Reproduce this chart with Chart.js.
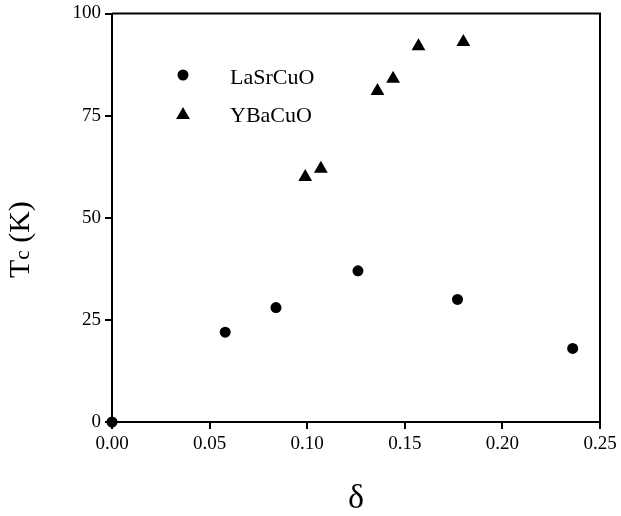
<!DOCTYPE html>
<html>
<head>
<meta charset="utf-8">
<script src="https://cdn.jsdelivr.net/npm/chart.js@4.4.1/dist/chart.umd.min.js"></script>
<style>
  html, body { margin: 0; padding: 0; background: #fff; }
  #wrap { width: 621px; height: 516px; position: relative; }
</style>
</head>
<body>
<div id="wrap"><canvas id="c"></canvas></div>
<script>
// ---- data ----
const seriesNames = ['LaSrCuO', 'YBaCuO'];
const lasrDelta = [0.000, 0.058, 0.084, 0.126, 0.177, 0.236];
const lasrTc    = [0, 22, 28, 37, 30, 18];
const ybaDelta  = [0.099, 0.107, 0.136, 0.144, 0.157, 0.180];
const ybaTc     = [60, 62, 81, 84, 92, 93];
const xTicks = [0.00, 0.05, 0.10, 0.15, 0.20, 0.25];
const yTicks = [0, 25, 50, 75, 100];
const xTitle = 'δ';
const yTitleMain = 'T', yTitleSub = 'c', yTitleRest = ' (K)';

const serif = "'Liberation Serif', 'Times New Roman', serif";

const toPts = (xs, ys) => xs.map((x, i) => ({ x: x, y: ys[i] }));

function drawMarker(ctx, style, r, x, y) {
  ctx.beginPath();
  if (style === 'circle') {
    ctx.arc(x, y, r, 0, Math.PI * 2);
  } else {
    const w = r * Math.sqrt(3) / 2;
    ctx.moveTo(x, y - r);
    ctx.lineTo(x + w, y + r / 2);
    ctx.lineTo(x - w, y + r / 2);
    ctx.closePath();
  }
  ctx.fillStyle = '#000';
  ctx.fill();
}

const framePlugin = {
  id: 'frame',
  afterDraw(chart) {
    const { ctx, chartArea: a } = chart;
    ctx.save();
    ctx.strokeStyle = '#000';
    ctx.lineWidth = 2;
    ctx.beginPath();
    ctx.moveTo(a.left, a.top);
    ctx.lineTo(a.right, a.top);
    ctx.lineTo(a.right, a.bottom);
    ctx.stroke();

    // legend inside plot
    const items = [
      { name: seriesNames[0], style: 'circle', r: 5.5, y: 77 },
      { name: seriesNames[1], style: 'triangle', r: 8, y: 115 }
    ];
    ctx.font = '22px ' + serif;
    ctx.textBaseline = 'middle';
    ctx.textAlign = 'left';
    items.forEach(it => {
      drawMarker(ctx, it.style, it.r, 183, it.y - (it.style === 'circle' ? 2 : 0));
      ctx.fillStyle = '#000';
      ctx.fillText(it.name, 230, it.y + 1);
    });

    // y-axis title with small "c"
    ctx.translate(29, 278);
    ctx.rotate(-Math.PI / 2);
    ctx.textBaseline = 'alphabetic';
    ctx.font = '30px ' + serif;
    ctx.fillText(yTitleMain, 0, 0);
    let off = ctx.measureText(yTitleMain).width;
    ctx.font = '21px ' + serif;
    ctx.fillText(yTitleSub, off, 0);
    off += ctx.measureText(yTitleSub).width;
    ctx.font = '30px ' + serif;
    ctx.fillText(yTitleRest, off, 0);
    ctx.restore();
  }
};

new Chart(document.getElementById('c'), {
  type: 'scatter',
  data: {
    datasets: [
      {
        label: seriesNames[0],
        data: toPts(lasrDelta, lasrTc),
        pointStyle: 'circle',
        pointRadius: 5.5,
        pointBackgroundColor: '#000',
        pointBorderColor: '#000',
        pointBorderWidth: 0,
        clip: false
      },
      {
        label: seriesNames[1],
        data: toPts(ybaDelta, ybaTc),
        pointStyle: 'triangle',
        pointRadius: 8,
        pointBackgroundColor: '#000',
        pointBorderColor: '#000',
        pointBorderWidth: 0,
        clip: false
      }
    ]
  },
  options: {
    responsive: true,
    maintainAspectRatio: false,
    devicePixelRatio: 1,
    animation: false,
    layout: { padding: { left: 0, right: 21, top: 13, bottom: 0 } },
    plugins: { legend: { display: false }, tooltip: { enabled: false } },
    scales: {
      x: {
        type: 'linear',
        min: 0, max: 0.25,
        afterBuildTicks(axis) { axis.ticks = xTicks.map(v => ({ value: v })); },
        afterFit(axis) { axis.height = 94; },
        ticks: {
          color: '#000',
          font: { family: serif, size: 19 },
          padding: 4,
          callback: v => Number(v).toFixed(2)
        },
        grid: { drawOnChartArea: false, drawTicks: true, tickLength: 7, color: '#000', lineWidth: 2 },
        border: { display: true, color: '#000', width: 2 },
        title: { display: true, text: xTitle, color: '#000', font: { family: serif, size: 34, lineHeight: 1.0 }, padding: { top: 0, bottom: 0 } }
      },
      y: {
        type: 'linear',
        min: 0, max: 100,
        afterBuildTicks(axis) { axis.ticks = yTicks.map(v => ({ value: v })); },
        afterFit(axis) { axis.width = 112; },
        ticks: {
          color: '#000',
          font: { family: serif, size: 19, lineHeight: 1.0 },
          padding: 4,
          callback: v => String(v)
        },
        grid: { drawOnChartArea: false, drawTicks: true, tickLength: 7, color: '#000', lineWidth: 2 },
        border: { display: true, color: '#000', width: 2 }
      }
    }
  },
  plugins: [framePlugin]
});
</script>
</body>
</html>
